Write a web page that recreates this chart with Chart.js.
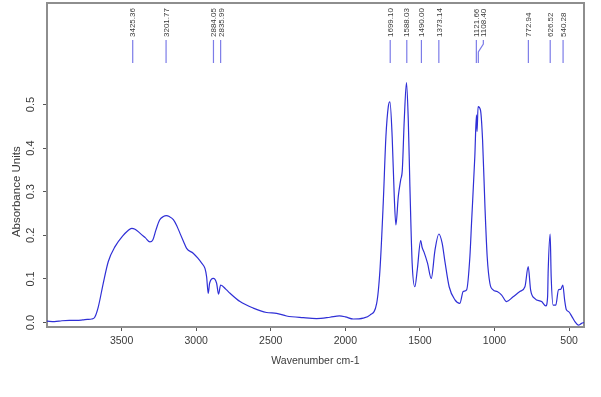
<!DOCTYPE html>
<html>
<head>
<meta charset="utf-8">
<script src="https://cdn.jsdelivr.net/npm/chart.js@4/dist/chart.umd.min.js"></script>
<style>
  body { margin: 0; background: #fff; }
  #wrap { width: 601px; height: 397px; }
</style>
</head>
<body>
<div id="wrap"><canvas id="irChart" width="601" height="397"></canvas></div>
<script>
// spectrum (wavenumber in cm-1, absorbance)
const wavenumbers = [
  4000, 3950, 3900, 3850, 3800, 3760, 3730, 3700, 3680, 3656, 3623, 3589, 3544, 3489,
  3460, 3432, 3410, 3377, 3340, 3310, 3290, 3270, 3245, 3220, 3200, 3180, 3153, 3130, 3109, 3085,
  3064, 3020, 2990, 2963, 2941, 2930, 2919, 2910, 2885, 2863, 2850, 2836, 2800, 2773,
  2706, 2617, 2528, 2461, 2394, 2282, 2193, 2103, 2040, 2000, 1947, 1880, 1835, 1790,
  1768, 1746, 1728, 1712, 1701, 1686, 1672, 1661, 1645, 1629, 1618, 1605, 1590, 1578,
  1567, 1552, 1534, 1518, 1495, 1485, 1473, 1449, 1424, 1399, 1373, 1351, 1332, 1304,
  1265, 1232, 1210, 1187, 1165, 1154, 1132, 1121, 1117, 1110, 1094, 1080, 1064, 1049,
  1031, 1009, 982, 952, 919, 875, 830, 796, 774, 758, 729, 684, 656, 644, 640, 627,
  620, 607, 589, 571, 556, 542, 530, 518, 503, 480, 461, 438, 416, 400
];
const absorbance = [
  0.003, 0.002, 0.004, 0.005, 0.005, 0.006, 0.007, 0.008, 0.012, 0.036, 0.090, 0.140, 0.174, 0.200,
  0.210, 0.216, 0.214, 0.205, 0.194, 0.185, 0.190, 0.212, 0.235, 0.243, 0.245, 0.243, 0.236, 0.222, 0.205, 0.186,
  0.170, 0.159, 0.148, 0.136, 0.124, 0.105, 0.067, 0.090, 0.101, 0.090, 0.065, 0.086, 0.076, 0.067,
  0.048, 0.033, 0.023, 0.021, 0.015, 0.011, 0.009, 0.012, 0.015, 0.013, 0.008, 0.010, 0.017, 0.044,
  0.120, 0.273, 0.426, 0.495, 0.506, 0.426, 0.289, 0.224, 0.289, 0.327, 0.350, 0.464, 0.550, 0.464,
  0.311, 0.136, 0.082, 0.120, 0.188, 0.172, 0.162, 0.136, 0.101, 0.166, 0.203, 0.182, 0.139, 0.082,
  0.052, 0.044, 0.071, 0.075, 0.151, 0.228, 0.380, 0.476, 0.438, 0.495, 0.487, 0.419, 0.266, 0.151,
  0.090, 0.075, 0.071, 0.063, 0.048, 0.059, 0.071, 0.082, 0.128, 0.075, 0.055, 0.048, 0.038, 0.059, 0.120, 0.203,
  0.105, 0.040, 0.040, 0.075, 0.076, 0.086, 0.052, 0.029, 0.025, 0.013, 0.002, -0.006, -0.002, 0.000
];

// picked peaks written above the plot
const peakPositions = [3425.36, 3201.77, 2884.05, 2835.99, 1699.10, 1588.03, 1490.00,
  1373.14, 1121.66, 1108.40, 772.94, 626.52, 540.28];
const peakShift = [0, 0, 0, 1, 0, 0, 0, 0, 0, 5, 0, 0, 0]; // label pushed aside when crowded

const xTickValues = [3500, 3000, 2500, 2000, 1500, 1000, 500];
const yTickValues = [0, 0.1, 0.2, 0.3, 0.4, 0.5];

const frameColor = '#8e8e8e';
const textColor = '#3a3a3a';

const peakPlugin = {
  id: 'peakMarks',
  beforeDatasetsDraw(chart) {
    const { ctx, chartArea: a } = chart;
    ctx.save();
    ctx.strokeStyle = frameColor;
    ctx.lineWidth = 2;
    ctx.strokeRect(a.left, a.top, a.right - a.left, a.bottom - a.top);
    ctx.restore();
  },
  afterDraw(chart) {
    const { ctx, chartArea: a } = chart;
    const xs = chart.scales.x;
    ctx.save();
    // peak markers
    ctx.strokeStyle = '#7c7ce8';
    ctx.lineWidth = 1.2;
    ctx.fillStyle = textColor;
    ctx.font = '8px "Liberation Sans", Arial, sans-serif';
    ctx.textAlign = 'left';
    ctx.textBaseline = 'middle';
    peakPositions.forEach((p, i) => {
      const x = xs.getPixelForValue(p);
      const lx = x + peakShift[i];
      ctx.beginPath();
      if (peakShift[i] > 2) {
        ctx.moveTo(lx, a.top + 37);
        ctx.lineTo(lx, a.top + 41);
        ctx.lineTo(x, a.top + 49);
        ctx.lineTo(x, a.top + 60);
      } else {
        ctx.moveTo(x, a.top + 37);
        ctx.lineTo(x, a.top + 60);
      }
      ctx.stroke();
      ctx.save();
      ctx.translate(lx + 0.5, a.top + 34);
      ctx.rotate(-Math.PI / 2);
      ctx.fillText(p.toFixed(2), 0, 0);
      ctx.restore();
    });
    // y axis title
    ctx.font = '11.5px "Liberation Sans", Arial, sans-serif';
    ctx.textAlign = 'center';
    ctx.translate(17, chart.scales.y.getPixelForValue(0.3));
    ctx.rotate(-Math.PI / 2);
    ctx.fillText('Absorbance Units', 0, 0);
    ctx.restore();
  }
};

const ctx = document.getElementById('irChart').getContext('2d');

new Chart(ctx, {
  type: 'line',
  data: {
    datasets: [{
      label: 'Absorbance',
      data: wavenumbers.map((w, i) => ({ x: w, y: absorbance[i] })),
      borderColor: '#2f2fd6',
      borderWidth: 1.2,
      pointRadius: 0,
      cubicInterpolationMode: 'monotone',
      fill: false
    }]
  },
  options: {
    responsive: false,
    animation: false,
    layout: { padding: { top: 3, right: 17, left: 0, bottom: 0 } },
    plugins: {
      legend: { display: false },
      tooltip: { enabled: false }
    },
    scales: {
      x: {
        type: 'linear',
        reverse: true,
        min: 400,
        max: 4000,
        afterFit: (s) => { s.height = 70; s.paddingLeft = 0; s.paddingRight = 0; },
        afterBuildTicks: (s) => { s.ticks = xTickValues.map(v => ({ value: v })); },
        border: { display: false },
        grid: { drawOnChartArea: false, drawTicks: true, tickLength: 4, tickColor: '#555', lineWidth: 1 },
        ticks: {
          color: textColor,
          padding: 4,
          maxRotation: 0,
          font: { family: '"Liberation Sans", Arial, sans-serif', size: 10.5 },
          callback: (v) => String(v)
        },
        title: {
          display: true,
          text: 'Wavenumber cm-1',
          color: textColor,
          font: { family: '"Liberation Sans", Arial, sans-serif', size: 10.5 },
          padding: { top: 4, bottom: 30 }
        }
      },
      y: {
        min: -0.0103,
        max: 0.7328,
        afterFit: (s) => { s.width = 47; s.paddingTop = 0; s.paddingBottom = 0; },
        afterBuildTicks: (s) => { s.ticks = yTickValues.map(v => ({ value: v })); },
        border: { display: false },
        grid: { drawOnChartArea: false, drawTicks: true, tickLength: 4, tickColor: '#555', lineWidth: 1 },
        ticks: {
          color: textColor,
          minRotation: 90,
          maxRotation: 90,
          crossAlign: 'center',
          padding: 4,
          font: { family: '"Liberation Sans", Arial, sans-serif', size: 11 },
          callback: (v) => Number(v).toFixed(1)
        }
      }
    }
  },
  plugins: [peakPlugin]
});
</script>
</body>
</html>
